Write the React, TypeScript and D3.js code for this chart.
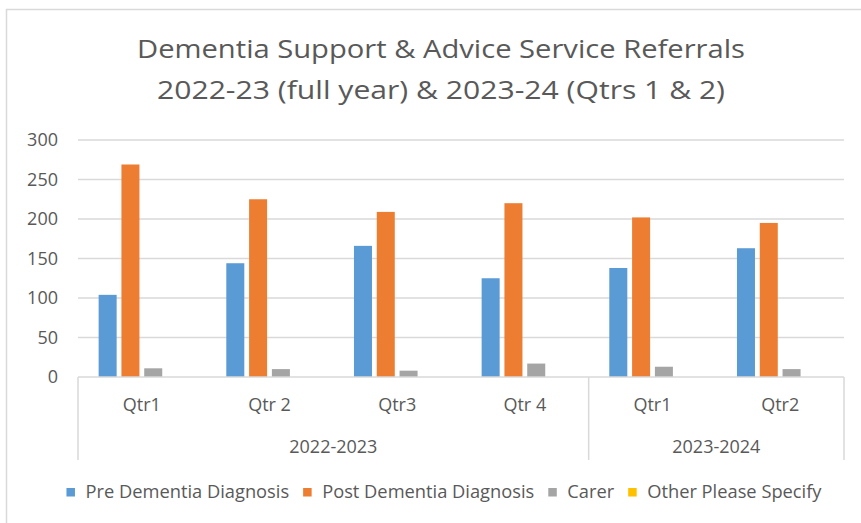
import React, { useEffect, useRef } from 'react';
import * as d3 from 'd3';

const quarters = ['Qtr1', 'Qtr 2', 'Qtr3', 'Qtr 4', 'Qtr1', 'Qtr2'];
const years = ['2022-2023', '2022-2023', '2022-2023', '2022-2023', '2023-2024', '2023-2024'];
const yearGroups = ['2022-2023', '2023-2024'];

const seriesNames = ['Pre Dementia Diagnosis', 'Post Dementia Diagnosis', 'Carer', 'Other Please Specify'];
const seriesColors = ['#5b9bd5', '#ed7d31', '#a5a5a5', '#ffc000'];

const preDiagnosis = [104, 144, 166, 125, 138, 163];
const postDiagnosis = [269, 225, 209, 220, 202, 195];
const carer = [11, 10, 8, 17, 13, 10];
const otherSpecify = [0, 0, 0, 0, 0, 0];

const yTicks = [0, 50, 100, 150, 200, 250, 300];

const titleLines = [
  'Dementia Support & Advice Service Referrals',
  '2022-23 (full year) & 2023-24 (Qtrs 1 & 2)',
];
// the source title is set wider than the font draws it
const titleWidths = [608, 568];

const FONT = '"Open Sans", sans-serif';
const TEXT = '#595959';
const GRID = '#d9d9d9';

const DementiaChart: React.FC = () => {
  const svgRef = useRef<SVGSVGElement>(null);
  const width = 861;
  const height = 523;

  useEffect(() => {
    if (!svgRef.current) return;
    const svg = d3.select(svgRef.current);
    svg.selectAll('*').remove();

    const margin = { top: 140, right: 17, bottom: 146, left: 78 };
    const plotW = width - margin.left - margin.right;
    const plotH = height - margin.top - margin.bottom;

    const values = [preDiagnosis, postDiagnosis, carer, otherSpecify];
    const idx = quarters.map((_, i) => i);

    // background and chart frame
    svg.append('rect').attr('width', width).attr('height', height).attr('fill', '#fff');
    svg.append('rect')
      .attr('x', 6.5).attr('y', 9.5)
      .attr('width', width + 20).attr('height', height + 20)
      .attr('fill', 'none').attr('stroke', GRID).attr('stroke-width', 1.5);

    // title
    svg.append('g')
      .selectAll('text')
      .data(titleLines)
      .enter()
      .append('text')
      .attr('x', 441)
      .attr('y', (_, i) => 58 + i * 41)
      .attr('text-anchor', 'middle')
      .attr('textLength', (_, i) => titleWidths[i])
      .attr('lengthAdjust', 'spacingAndGlyphs')
      .style('font-family', FONT).style('font-size', '25.5px').style('fill', TEXT)
      .text(d => d);

    const g = svg.append('g').attr('transform', `translate(${margin.left},${margin.top})`);

    const x0 = d3.scaleBand<number>().domain(idx).range([0, plotW]).padding(0);
    const x1 = d3.scaleBand<number>()
      .domain(seriesNames.map((_, i) => i))
      .range([0, x0.bandwidth()])
      .paddingInner(0.21)
      .paddingOuter(0.905);
    const y = d3.scaleLinear().domain([0, 300]).range([plotH, 0]);

    // gridlines
    g.append('g')
      .selectAll('line')
      .data(yTicks.filter(t => t > 0))
      .enter()
      .append('line')
      .attr('x1', 0).attr('x2', plotW)
      .attr('y1', d => y(d)).attr('y2', d => y(d))
      .attr('stroke', GRID).attr('stroke-width', 1.3);

    // y tick labels
    g.append('g')
      .selectAll('text')
      .data(yTicks)
      .enter()
      .append('text')
      .attr('x', -20)
      .attr('y', d => y(d))
      .attr('dy', '0.36em')
      .attr('text-anchor', 'end')
      .style('font-family', FONT).style('font-size', '18px').style('fill', TEXT)
      .text(d => d);

    // bars
    const groups = g.selectAll('.cat')
      .data(idx)
      .enter()
      .append('g')
      .attr('class', 'cat')
      .attr('transform', d => `translate(${x0(d)},0)`);

    groups.selectAll('rect')
      .data(ci => values.map((s, si) => ({ si, v: s[ci] })))
      .enter()
      .append('rect')
      .attr('x', d => x1(d.si) || 0)
      .attr('y', d => y(d.v))
      .attr('width', x1.bandwidth())
      .attr('height', d => plotH - y(d.v))
      .attr('fill', d => seriesColors[d.si]);

    // x axis line
    g.append('line')
      .attr('x1', 0).attr('x2', plotW)
      .attr('y1', plotH).attr('y2', plotH)
      .attr('stroke', GRID).attr('stroke-width', 1.5);

    // group boundaries
    const bounds: number[] = [0];
    yearGroups.forEach(yr => {
      const last = years.lastIndexOf(yr);
      bounds.push((x0(last) || 0) + x0.bandwidth());
    });
    g.append('g')
      .selectAll('line')
      .data(bounds)
      .enter()
      .append('line')
      .attr('x1', d => d).attr('x2', d => d)
      .attr('y1', plotH).attr('y2', plotH + 83)
      .attr('stroke', GRID).attr('stroke-width', 1.5);

    // quarter labels
    g.append('g')
      .selectAll('text')
      .data(idx)
      .enter()
      .append('text')
      .attr('x', d => (x0(d) || 0) + x0.bandwidth() / 2)
      .attr('y', plotH + 34)
      .attr('text-anchor', 'middle')
      .style('font-family', FONT).style('font-size', '18px').style('fill', TEXT)
      .text(d => quarters[d]);

    // year labels
    g.append('g')
      .selectAll('text')
      .data(yearGroups)
      .enter()
      .append('text')
      .attr('x', yr => {
        const first = years.indexOf(yr);
        const last = years.lastIndexOf(yr);
        return ((x0(first) || 0) + (x0(last) || 0) + x0.bandwidth()) / 2;
      })
      .attr('y', plotH + 76)
      .attr('text-anchor', 'middle')
      .style('font-family', FONT).style('font-size', '18px').style('fill', TEXT)
      .text(d => d);

    // legend
    const legend = svg.append('g');
    const items = legend.selectAll('g')
      .data(seriesNames)
      .enter()
      .append('g');
    items.append('rect')
      .attr('width', 8.5).attr('height', 8.5)
      .attr('y', 488)
      .attr('fill', (_, i) => seriesColors[i]);
    const labels = items.append('text')
      .attr('x', 19)
      .attr('y', 498)
      .style('font-family', FONT).style('font-size', '18.3px').style('fill', TEXT)
      .text(d => d);

    const widths: number[] = [];
    labels.each(function () {
      widths.push((this as SVGTextElement).getComputedTextLength());
    });
    const gap = 14;
    const itemW = widths.map(w => 19 + w);
    const total = d3.sum(itemW) + gap * (itemW.length - 1);
    let cursor = 444 - total / 2;
    items.attr('transform', (_, i) => {
      const tx = cursor;
      cursor += itemW[i] + gap;
      return `translate(${tx},0)`;
    });
  }, []);

  return (
    <svg
      ref={svgRef}
      width={width}
      height={height}
      style={{ position: 'absolute', left: 0, top: 0, display: 'block' }}
    />
  );
};

export default function App() {
  return <DementiaChart />;
}
